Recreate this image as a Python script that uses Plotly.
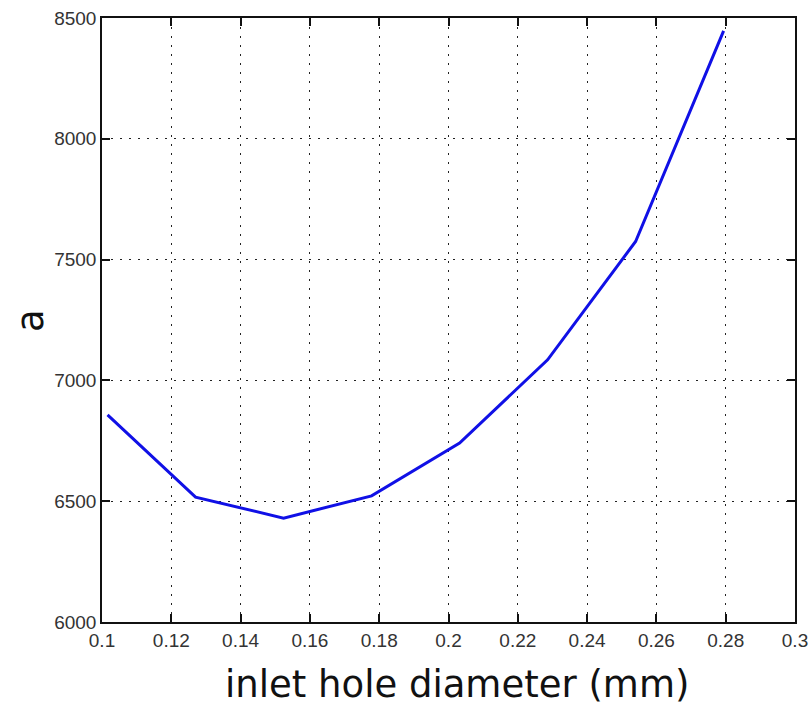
import plotly.graph_objects as go

# inlet hole diameter (mm) and the corresponding value of a
diameter_mm = [0.1016, 0.1270, 0.1524, 0.1778, 0.2032, 0.2286, 0.2540, 0.2794]
a_values = [6857, 6517, 6430, 6522, 6741, 7085, 7575, 8447]

x_ticks = [0.1, 0.12, 0.14, 0.16, 0.18, 0.2, 0.22, 0.24, 0.26, 0.28, 0.3]
x_tick_text = ["0.1", "0.12", "0.14", "0.16", "0.18", "0.2", "0.22", "0.24", "0.26", "0.28", "0.3"]
y_ticks = [6000, 6500, 7000, 7500, 8000, 8500]
y_tick_text = ["6000", "6500", "7000", "7500", "8000", "8500"]

fig = go.Figure()
fig.add_trace(go.Scatter(
    x=diameter_mm, y=a_values, mode="lines",
    line=dict(color="#1010e6", width=3),
    showlegend=False,
))

tick_font = dict(family="Liberation Sans, Arial, sans-serif", size=19, color="#333333")
title_font = dict(family="DejaVu Sans, Verdana, sans-serif", size=37, color="#111111")
axis_common = dict(
    showline=True, linecolor="#111111", linewidth=1.5, mirror="ticks",
    ticks="inside", ticklen=8, tickwidth=1.5, tickcolor="#111111",
    showgrid=True, gridcolor="#222222", gridwidth=1, griddash="2px,7px",
    zeroline=False, tickfont=tick_font, automargin=False,
)

fig.update_xaxes(range=[0.1, 0.3], tickvals=x_ticks, ticktext=x_tick_text, **axis_common)
fig.update_yaxes(range=[6000, 8500], tickvals=y_ticks, ticktext=y_tick_text, **axis_common)

# axis titles placed as paper-referenced annotations
fig.add_annotation(
    text="inlet hole diameter (mm)", xref="paper", yref="paper",
    x=0.512, y=-0.103, xanchor="center", yanchor="middle",
    showarrow=False, font=title_font,
)
fig.add_annotation(
    text="a", xref="paper", yref="paper",
    x=-0.104, y=0.5, xanchor="center", yanchor="middle",
    textangle=-90, showarrow=False, font=title_font,
)

fig.update_layout(
    width=810, height=705,
    margin=dict(l=102, r=15, t=18, b=83),
    paper_bgcolor="white", plot_bgcolor="white",
)

fig.write_html("out.html")
